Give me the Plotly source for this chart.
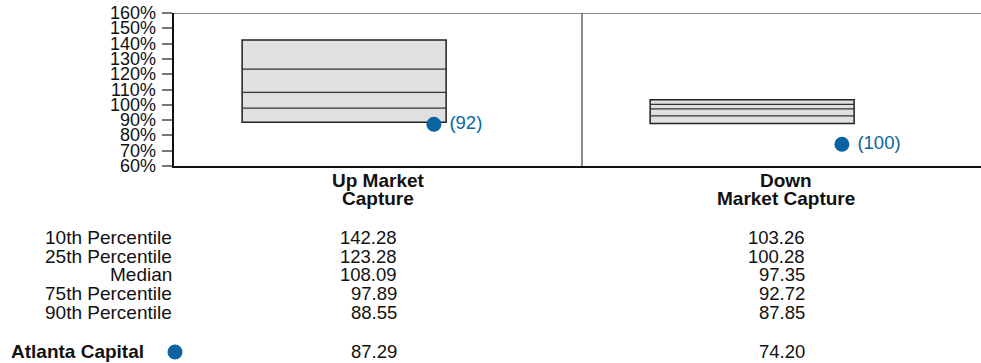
import plotly.graph_objects as go

# Market capture percentile distribution vs. the manager
categories = ["Up Market Capture", "Down Market Capture"]
cat_lines = [["Up Market", "Capture"], ["Down", "Market Capture"]]
p10 = [142.28, 103.26]
p25 = [123.28, 100.28]
median = [108.09, 97.35]
p75 = [97.89, 92.72]
p90 = [88.55, 87.85]
manager_name = "Atlanta Capital"
manager = [87.29, 74.20]
manager_rank = ["(92)", "(100)"]
row_labels = ["10th Percentile", "25th Percentile", "Median", "75th Percentile", "90th Percentile"]
y_ticks = list(range(60, 161, 10))

FONT = "Arial, Liberation Sans, Helvetica, sans-serif"
BLUE = "#0a64a0"
INK = "#111111"
W, H = 981, 363
TOP, BOTTOM, LEFT = 13, 166, 174
PW = W - LEFT          # plot width in px
PH = BOTTOM - TOP      # plot height in px

xs = list(range(len(categories)))
box_off = -0.333
box_w = 0.5
dot_off = 0.137

fig = go.Figure()

# Boxes spanning the 90th to 10th percentile
fig.add_trace(go.Bar(
    x=xs, base=p90, y=[a - b for a, b in zip(p10, p90)],
    width=box_w, offset=box_off,
    marker=dict(color="#e0e0e0", line=dict(color="#222222", width=1.5)),
    hoverinfo="skip", showlegend=False,
))

# Inner percentile lines
for series in (p25, median, p75):
    for i, v in enumerate(series):
        fig.add_trace(go.Scatter(
            x=[i + box_off, i + box_off + box_w], y=[v, v], mode="lines",
            line=dict(color="#333333", width=1.3),
            hoverinfo="skip", showlegend=False,
        ))

# Manager markers with rank labels
fig.add_trace(go.Scatter(
    x=[i + dot_off for i in xs], y=manager, mode="markers+text",
    marker=dict(color=BLUE, size=15),
    text=[" " + r for r in manager_rank], textposition="middle right",
    textfont=dict(color=BLUE, size=18.5, family=FONT),
    hoverinfo="skip", showlegend=False,
))


def px_x(pix):
    return (pix - LEFT) / PW


def px_y(pix):
    return (BOTTOM - pix) / PH


ann = []
# Y tick labels
for v in y_ticks:
    ann.append(dict(x=px_x(157.5), y=v, xref="paper", yref="y", text="%d%%" % v,
                    showarrow=False, xanchor="right", yanchor="middle",
                    font=dict(size=18, color=INK, family=FONT)))

# Category titles under the plot
for i, lines in enumerate(cat_lines):
    for j, t in enumerate(lines):
        ann.append(dict(x=i, y=px_y(180.5 + j * 17.5), xref="x", yref="paper",
                        text="<b>%s</b>" % t, showarrow=False,
                        font=dict(size=19, color=INK, family=FONT),
                        xanchor="center", yanchor="middle"))

# Percentile table
row_y = [237, 256, 274.5, 293, 312]
cols = [p10, p25, median, p75, p90]
for k, lab in enumerate(row_labels):
    ann.append(dict(x=px_x(174), y=px_y(row_y[k]), xref="paper", yref="paper", text=lab,
                    showarrow=False, xanchor="right", yanchor="middle",
                    font=dict(size=19, color=INK, family=FONT)))
    for i in xs:
        ann.append(dict(x=i + 0.0515, y=px_y(row_y[k]), xref="x", yref="paper",
                        text="%.2f" % cols[k][i], showarrow=False,
                        xanchor="right", yanchor="middle",
                        font=dict(size=18.5, color=INK, family=FONT)))

# Manager row
ann.append(dict(x=px_x(9), y=px_y(351), xref="paper", yref="paper",
                text="<b>%s</b>" % manager_name, showarrow=False,
                xanchor="left", yanchor="middle",
                font=dict(size=19, color=INK, family=FONT)))
for i in xs:
    ann.append(dict(x=i + 0.0515, y=px_y(351), xref="x", yref="paper",
                    text="%.2f" % manager[i], showarrow=False,
                    xanchor="right", yanchor="middle",
                    font=dict(size=18.5, color=INK, family=FONT)))

r = 7.5
shapes = [
    # legend dot beside manager name
    dict(type="circle", xref="paper", yref="paper",
         x0=px_x(175 - r), x1=px_x(175 + r),
         y0=px_y(352 + r), y1=px_y(352 - r),
         fillcolor=BLUE, line=dict(width=0)),
    # top border
    dict(type="line", xref="paper", yref="y", x0=0, x1=1, y0=160, y1=160,
         line=dict(color="#666666", width=1.5)),
    # panel divider
    dict(type="line", xref="x", yref="paper", x0=0.5, x1=0.5, y0=0, y1=1,
         line=dict(color="#666666", width=1.5)),
]

fig.update_layout(
    width=W, height=H,
    margin=dict(l=LEFT, r=0, t=TOP, b=H - BOTTOM),
    paper_bgcolor="white", plot_bgcolor="white",
    annotations=ann, shapes=shapes,
    font=dict(family=FONT, color=INK),
    xaxis=dict(range=[-0.5, 1.5 - 9 / 408], showgrid=False, zeroline=False,
               showticklabels=False, ticks="", showline=True,
               linecolor=INK, linewidth=1.5),
    yaxis=dict(range=[60, 160], tickvals=y_ticks, showticklabels=False,
               showgrid=False, zeroline=False, showline=True,
               linecolor=INK, linewidth=1.5,
               ticks="outside", ticklen=10, tickcolor="#777777", tickwidth=1.5),
)

fig.write_html("out.html")
